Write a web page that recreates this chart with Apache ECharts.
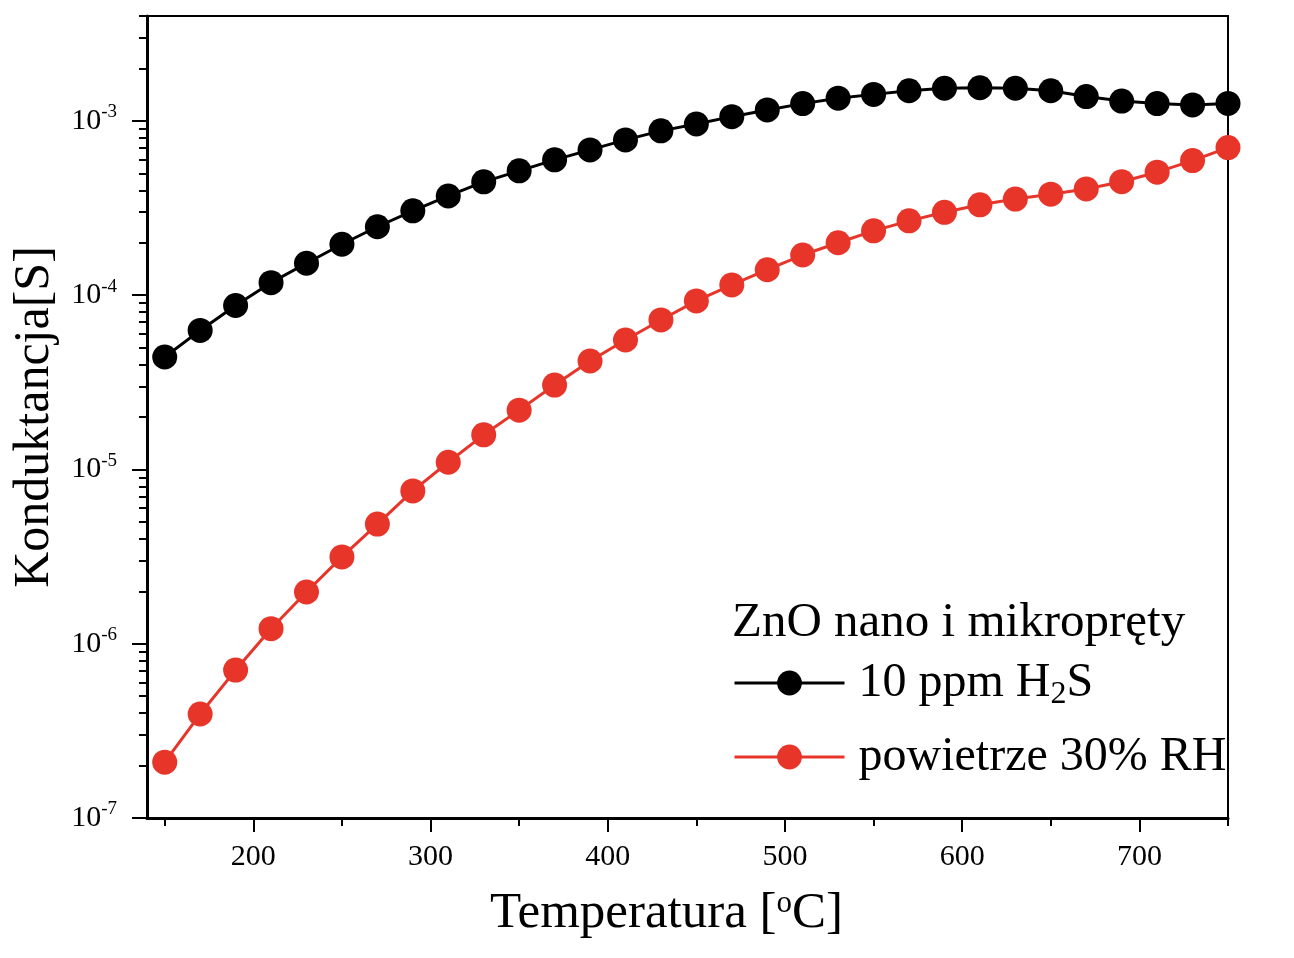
<!DOCTYPE html>
<html>
<head>
<meta charset="utf-8">
<script src="https://cdn.jsdelivr.net/npm/echarts@6/dist/echarts.min.js"></script>
<style>
  html, body { margin: 0; padding: 0; background: #fff; }
  #chart { width: 1294px; height: 958px; }
</style>
</head>
<body>
<div id="chart"></div>
<script>
// ---- data ----
const temperatures = [150,170,190,210,230,250,270,290,310,330,350,370,390,410,430,450,
                      470,490,510,530,550,570,590,610,630,650,670,690,710,730,750];
const h2sValues = [4.42e-5,6.28e-5,8.73e-5,1.18e-4,1.525e-4,1.96e-4,2.47e-4,3.05e-4,3.71e-4,4.47e-4,
                   5.17e-4,5.98e-4,6.82e-4,7.78e-4,8.77e-4,9.6e-4,1.058e-3,1.156e-3,1.257e-3,1.35e-3,
                   1.42e-3,1.49e-3,1.54e-3,1.55e-3,1.54e-3,1.49e-3,1.38e-3,1.30e-3,1.257e-3,1.235e-3,1.26e-3];
const airValues = [2.09e-7,3.95e-7,7.06e-7,1.22e-6,1.98e-6,3.15e-6,4.86e-6,7.53e-6,1.10e-5,1.58e-5,
                   2.19e-5,3.05e-5,4.19e-5,5.53e-5,7.21e-5,9.27e-5,1.146e-4,1.40e-4,1.70e-4,2.00e-4,
                   2.34e-4,2.67e-4,2.99e-4,3.30e-4,3.56e-4,3.80e-4,4.07e-4,4.48e-4,5.08e-4,5.92e-4,7.03e-4];
const xMajorTicks = [200,300,400,500,600,700];
const xMinorTicks = [150,250,350,450,550,650,750];
const yMajorTicks = [1e-7,1e-6,1e-5,1e-4,1e-3];
const seriesNames = ['10 ppm H2S', 'powietrze 30% RH'];
const legendTitle = 'ZnO nano i mikropręty';
const xTitle = 'Temperatura [{sup|o}C]';
const yTitle = 'Konduktancja[S]';

// minor log ticks (2..9 x 10^k)
const yMinorTicks = [];
for (let e = -7; e <= -3; e++) {
  for (let m = 2; m <= 9; m++) {
    const v = m * Math.pow(10, e);
    if (v <= 4e-3 * 1.0001) yMinorTicks.push(v);
  }
}

const FONT = '"Liberation Serif", "Times New Roman", serif';
const RED = '#e8352a';

const chart = echarts.init(document.getElementById('chart'));
const pairs = (vals) => temperatures.map((t, i) => [t, vals[i]]);

chart.setOption({
  animation: false,
  backgroundColor: '#fff',
  title: {
    text: legendTitle,
    left: 727,
    top: 594,
    textStyle: { fontFamily: FONT, fontSize: 49, fontWeight: 'normal', color: '#000' }
  },
  legend: {
    orient: 'vertical',
    left: 728,
    top: 654,
    itemWidth: 110,
    itemHeight: 31,
    itemGap: 22,
    data: seriesNames,
    lineStyle: { width: 3 },
    formatter: (name) => name === '10 ppm H2S' ? '10 ppm H{sub|2}S' : name,
    textStyle: {
      fontFamily: FONT, fontSize: 48, color: '#000', padding: [0, 0, 0, 9],
      rich: {
        sub: { fontFamily: FONT, fontSize: 32, color: '#000', padding: [24, 0, 0, 0] }
      }
    }
  },
  grid: {
    left: 147, right: 66, top: 16, bottom: 140,
    outerBoundsMode: 'none', containLabel: false,
    show: true, borderColor: '#000', borderWidth: 2, backgroundColor: 'transparent'
  },
  xAxis: [
    {
      type: 'value', min: 140, max: 750, position: 'bottom',
      name: xTitle, nameLocation: 'middle', nameGap: 70,
      nameTextStyle: {
        fontFamily: FONT, fontSize: 51, color: '#000', padding: [0, 42, 0, 0],
        rich: { sup: { fontFamily: FONT, fontSize: 31, color: '#000', verticalAlign: 'top', padding: [0, 0, 20, 0] } }
      },
      axisLine: { show: true, onZero: false, lineStyle: { color: '#000', width: 3 } },
      axisTick: { show: true, customValues: xMajorTicks, length: 14, lineStyle: { color: '#000', width: 2 } },
      axisLabel: { customValues: xMajorTicks, margin: 24, fontFamily: FONT, fontSize: 30, color: '#000' },
      splitLine: { show: false }
    },
    {
      type: 'value', min: 140, max: 750, position: 'bottom', gridIndex: 0,
      axisLine: { show: false },
      axisTick: { show: true, customValues: xMinorTicks, length: 8, lineStyle: { color: '#000', width: 2 } },
      axisLabel: { show: false },
      splitLine: { show: false }
    }
  ],
  yAxis: [
    {
      type: 'log', logBase: 10, min: 1e-7, max: 4e-3, position: 'left',
      name: yTitle, nameLocation: 'middle', nameGap: 86,
      nameTextStyle: { fontFamily: FONT, fontSize: 50, color: '#000' },
      axisLine: { show: true, onZero: false, lineStyle: { color: '#000', width: 3 } },
      axisTick: { show: true, customValues: yMajorTicks, length: 15, lineStyle: { color: '#000', width: 2 } },
      axisLabel: {
        customValues: yMajorTicks, margin: 30, fontFamily: FONT, fontSize: 30, color: '#000',
        formatter: (v) => '{b|10}{sup|' + Math.round(Math.log10(v)) + '}',
        rich: {
          b: { fontFamily: FONT, fontSize: 30, color: '#000' },
          sup: { fontFamily: FONT, fontSize: 19, color: '#000', padding: [0, 0, 17, 0] }
        }
      },
      splitLine: { show: false }
    },
    {
      type: 'log', logBase: 10, min: 1e-7, max: 4e-3, position: 'left', gridIndex: 0,
      axisLine: { show: false },
      axisTick: { show: true, customValues: yMinorTicks, length: 8, lineStyle: { color: '#000', width: 2 } },
      axisLabel: { show: false },
      splitLine: { show: false }
    }
  ],
  series: [
    {
      name: seriesNames[0], type: 'line', xAxisIndex: 0, yAxisIndex: 0,
      data: pairs(h2sValues),
      symbol: 'circle', symbolSize: 25, showAllSymbol: true,
      lineStyle: { color: '#000', width: 3 },
      itemStyle: { color: '#000' }
    },
    {
      name: seriesNames[1], type: 'line', xAxisIndex: 0, yAxisIndex: 0,
      data: pairs(airValues),
      symbol: 'circle', symbolSize: 25, showAllSymbol: true,
      lineStyle: { color: RED, width: 3 },
      itemStyle: { color: RED }
    }
  ]
});
</script>
</body>
</html>
